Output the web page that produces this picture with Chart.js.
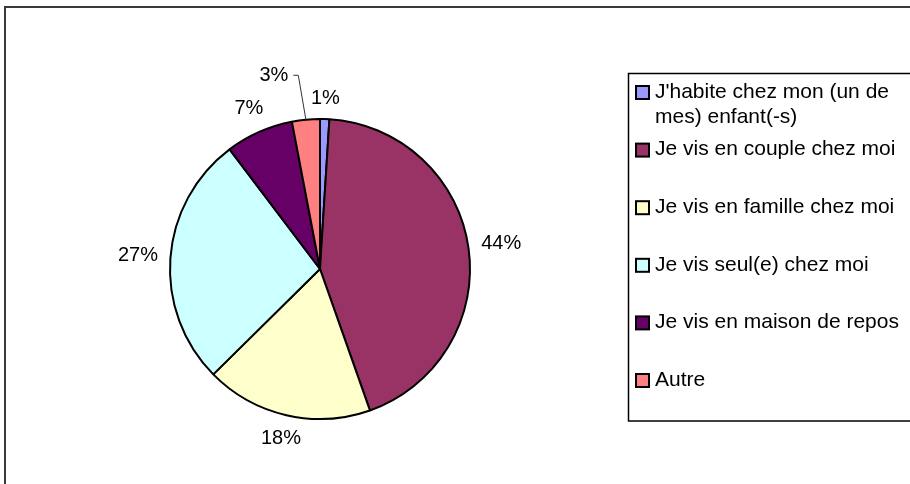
<!DOCTYPE html>
<html>
<head>
<meta charset="utf-8">
<script src="https://cdn.jsdelivr.net/npm/chart.js@4.4.1/dist/chart.umd.min.js"></script>
<style>
  html, body { margin: 0; padding: 0; background: #fff; }
  canvas { display: block; }
</style>
</head>
<body>
<canvas id="pie" width="910" height="484"></canvas>
<script>
// Living situation shares (%), clockwise from 12 o'clock
const categories = [
  "J'habite chez mon (un de mes) enfant(-s)",
  'Je vis en couple chez moi',
  'Je vis en famille chez moi',
  'Je vis seul(e) chez moi',
  'Je vis en maison de repos',
  'Autre',
];
const shares = [1.0, 43.6, 18.0, 27.1, 7.3, 3.0];
const sliceColors = ['#9999FF', '#993366', '#FFFFCC', '#CCFFFF', '#660066', '#FF8080'];

const FONT = '"Liberation Sans", Arial, sans-serif';

/** Outer frame of the chart object (runs off the right and bottom edges). */
const frame = {
  id: 'frame',
  beforeDraw(chart) {
    const ctx = chart.ctx;
    ctx.save();
    ctx.strokeStyle = '#3a3a3a';
    ctx.lineWidth = 2;
    ctx.strokeRect(5, 7, 1000, 1000);
    ctx.restore();
  },
};

/** Percent labels outside each slice, with an elbow leader where asked. */
const outsideLabels = {
  id: 'outsideLabels',
  afterDatasetsDraw(chart, args, opts) {
    const ctx = chart.ctx;
    const ds = chart.data.datasets[0];
    const total = ds.data.reduce((a, b) => a + b, 0);
    const meta = chart.getDatasetMeta(0);
    ctx.save();
    ctx.font = opts.font;
    ctx.fillStyle = '#000';
    ctx.textAlign = 'center';
    ctx.textBaseline = 'middle';
    meta.data.forEach((arc, i) => {
      const p = arc.getProps(['x', 'y', 'startAngle', 'endAngle', 'outerRadius'], true);
      const mid = (p.startAngle + p.endAngle) / 2;
      const text = Math.round(ds.data[i] / total * 100) + '%';
      const w = ctx.measureText(text).width;
      const lead = opts.leaders[i];
      const ang = lead ? mid + lead.dAngle * Math.PI / 180 : mid;
      const c = Math.cos(ang), s = Math.sin(ang);
      const ext = Math.abs(c) * w / 2 + Math.abs(s) * opts.textHeight / 2;
      const dist = p.outerRadius + opts.gap + ext + (lead ? lead.dRadius : 0);
      const tx = p.x + c * dist;
      const ty = p.y + s * dist;
      ctx.fillText(text, tx, ty);
      if (lead) {
        ctx.beginPath();
        ctx.strokeStyle = '#333';
        ctx.lineWidth = 1;
        ctx.moveTo(tx + w / 2 + 5, ty);
        ctx.lineTo(tx + w / 2 + 10, ty);
        ctx.lineTo(p.x + Math.cos(mid) * p.outerRadius, p.y + Math.sin(mid) * p.outerRadius);
        ctx.stroke();
      }
    });
    ctx.restore();
  },
};

/** Boxed legend on the right, one fixed slot per item, long labels wrapped. */
const boxLegend = {
  id: 'boxLegend',
  afterDraw(chart, args, opts) {
    const ctx = chart.ctx;
    const ds = chart.data.datasets[0];
    ctx.save();
    ctx.strokeStyle = '#000';
    ctx.lineWidth = 1.5;
    ctx.strokeRect(opts.left, opts.top, opts.width, opts.height);
    ctx.font = opts.font;
    ctx.textAlign = 'left';
    ctx.textBaseline = 'middle';
    chart.data.labels.forEach((label, i) => {
      const y = opts.firstY + i * opts.slot;
      ctx.fillStyle = ds.backgroundColor[i];
      ctx.fillRect(opts.markerX, y - 6, 13, 13);
      ctx.lineWidth = 2;
      ctx.strokeRect(opts.markerX, y - 6, 13, 13);
      ctx.fillStyle = '#000';
      // simple word wrap
      const lines = [];
      let line = '';
      label.split(' ').forEach(word => {
        const test = line ? line + ' ' + word : word;
        if (ctx.measureText(test).width > opts.maxText && line) {
          lines.push(line);
          line = word;
        } else {
          line = test;
        }
      });
      lines.push(line);
      lines.forEach((l, k) => ctx.fillText(l, opts.textX, y + k * opts.lineHeight));
    });
    ctx.restore();
  },
};

new Chart(document.getElementById('pie'), {
  type: 'pie',
  data: {
    labels: categories,
    datasets: [{
      data: shares,
      backgroundColor: sliceColors,
      borderColor: '#000',
      borderWidth: 2,
    }],
  },
  options: {
    responsive: false,
    devicePixelRatio: 1,
    animation: false,
    layout: { padding: { left: 169, right: 439, top: 118, bottom: 64 } },
    plugins: {
      legend: { display: false },
      tooltip: { enabled: false },
      outsideLabels: {
        font: '20px ' + FONT,
        textHeight: 16,
        gap: 12,
        leaders: { 5: { dAngle: -8, dRadius: 26 } },
      },
      boxLegend: {
        font: '21px ' + FONT,
        left: 628.5, top: 73.5, width: 400, height: 347.5,
        markerX: 636, textX: 655,
        firstY: 92, slot: 57.6, lineHeight: 25, maxText: 250,
      },
    },
  },
  plugins: [frame, outsideLabels, boxLegend],
});
</script>
</body>
</html>
